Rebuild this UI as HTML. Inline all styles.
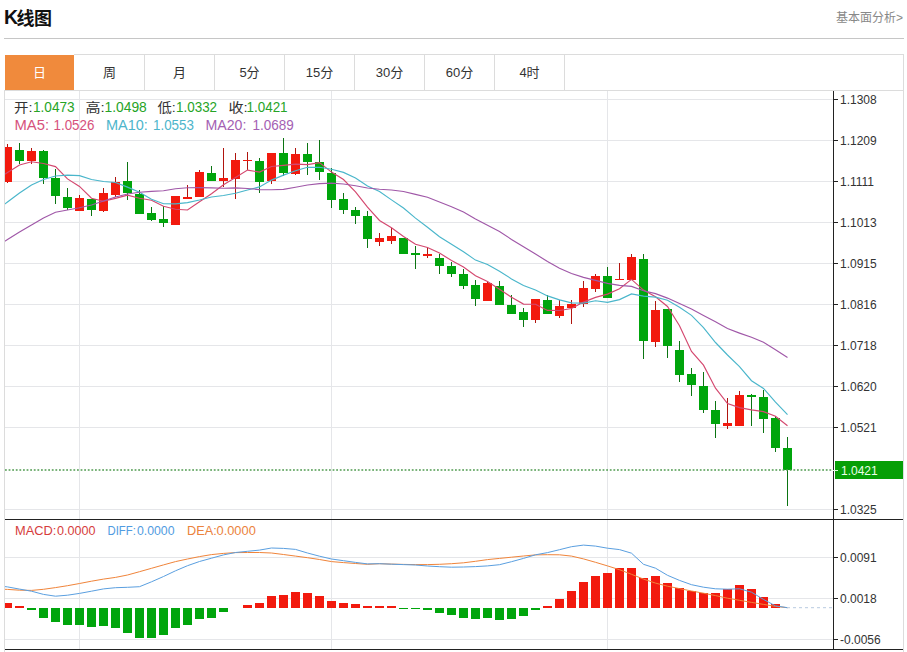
<!DOCTYPE html>
<html><head><meta charset="utf-8"><title>K线图</title>
<style>
*{margin:0;padding:0;box-sizing:border-box}
html,body{width:907px;height:652px;overflow:hidden;background:#fff}
body{position:relative;font-family:"Liberation Sans","Noto Sans CJK SC",sans-serif;color:#333}
.title{position:absolute;left:4px;top:6px;font-size:18px;font-weight:bold;color:#111;line-height:24px;letter-spacing:-0.5px}
.title i{font-style:normal;font-size:19.5px;position:relative;top:-1px;letter-spacing:-1.5px}
.more{position:absolute;right:4px;top:10px;font-size:12px;color:#888;line-height:16px}
.hr{position:absolute;left:4px;top:38px;width:900px;height:1px;background:#c6c6c6}
.tab{position:absolute;top:55px;width:69px;height:35px;line-height:36px;text-align:center;font-size:13px;color:#333}
.tab.on{background:#f08a3c;color:#fff}
svg{position:absolute;left:0;top:0}
.ax{font-family:"Liberation Sans",sans-serif;font-size:12px;fill:#333}
</style></head><body>
<div class="title"><i>K</i>线图</div>
<div class="more">基本面分析&gt;</div>
<div class="hr"></div>
<div class="tab on" style="left:5px">日</div>
<div class="tab" style="left:75px">周</div>
<div class="tab" style="left:145px">月</div>
<div class="tab" style="left:215px">5分</div>
<div class="tab" style="left:285px">15分</div>
<div class="tab" style="left:355px">30分</div>
<div class="tab" style="left:425px">60分</div>
<div class="tab" style="left:495px">4时</div>

<svg width="907" height="652" viewBox="0 0 907 652">
<defs><clipPath id="cm"><rect x="5" y="91" width="828" height="428"/></clipPath>
<clipPath id="cd"><rect x="5" y="520" width="828" height="129"/></clipPath></defs>
<line x1="74" y1="54.5" x2="904" y2="54.5" stroke="#dcdcdc"/><line x1="903.5" y1="54" x2="903.5" y2="652" stroke="#dcdcdc"/><line x1="4" y1="90.5" x2="904" y2="90.5" stroke="#dcdcdc"/><line x1="4.5" y1="90" x2="4.5" y2="652" stroke="#dcdcdc"/><line x1="144.5" y1="55" x2="144.5" y2="90" stroke="#dcdcdc"/><line x1="214.5" y1="55" x2="214.5" y2="90" stroke="#dcdcdc"/><line x1="284.5" y1="55" x2="284.5" y2="90" stroke="#dcdcdc"/><line x1="354.5" y1="55" x2="354.5" y2="90" stroke="#dcdcdc"/><line x1="424.5" y1="55" x2="424.5" y2="90" stroke="#dcdcdc"/><line x1="494.5" y1="55" x2="494.5" y2="90" stroke="#dcdcdc"/><line x1="564.5" y1="55" x2="564.5" y2="90" stroke="#dcdcdc"/><line x1="5" y1="99.5" x2="833" y2="99.5" stroke="#e5e6e9"/><line x1="5" y1="140.5" x2="833" y2="140.5" stroke="#e5e6e9"/><line x1="5" y1="181.5" x2="833" y2="181.5" stroke="#e5e6e9"/><line x1="5" y1="222.5" x2="833" y2="222.5" stroke="#e5e6e9"/><line x1="5" y1="263.5" x2="833" y2="263.5" stroke="#e5e6e9"/><line x1="5" y1="304.5" x2="833" y2="304.5" stroke="#e5e6e9"/><line x1="5" y1="345.5" x2="833" y2="345.5" stroke="#e5e6e9"/><line x1="5" y1="386.5" x2="833" y2="386.5" stroke="#e5e6e9"/><line x1="5" y1="427.5" x2="833" y2="427.5" stroke="#e5e6e9"/><line x1="5" y1="509.5" x2="833" y2="509.5" stroke="#e5e6e9"/><line x1="5" y1="557.5" x2="833" y2="557.5" stroke="#e5e6e9"/><line x1="5" y1="598.5" x2="833" y2="598.5" stroke="#e5e6e9"/><line x1="5" y1="639.5" x2="833" y2="639.5" stroke="#e5e6e9"/><line x1="79.5" y1="91" x2="79.5" y2="649" stroke="#e5e6e9"/><line x1="331.5" y1="91" x2="331.5" y2="649" stroke="#e5e6e9"/><line x1="607.5" y1="91" x2="607.5" y2="649" stroke="#e5e6e9"/><g clip-path="url(#cm)"><line x1="7.5" y1="144" x2="7.5" y2="183" stroke="#b0140e"/><rect x="3" y="147" width="9" height="35" fill="#f21a0e"/><line x1="19.5" y1="143" x2="19.5" y2="164" stroke="#0b7412"/><rect x="15" y="150" width="9" height="11" fill="#00a50c"/><line x1="31.5" y1="148" x2="31.5" y2="164" stroke="#b0140e"/><rect x="27" y="151" width="9" height="10" fill="#f21a0e"/><line x1="43.5" y1="150" x2="43.5" y2="184" stroke="#0b7412"/><rect x="39" y="151" width="9" height="27" fill="#00a50c"/><line x1="55.5" y1="169" x2="55.5" y2="204" stroke="#0b7412"/><rect x="51" y="178" width="9" height="18" fill="#00a50c"/><line x1="67.5" y1="188" x2="67.5" y2="210" stroke="#0b7412"/><rect x="63" y="197" width="9" height="11" fill="#00a50c"/><line x1="79.5" y1="195" x2="79.5" y2="211" stroke="#b0140e"/><rect x="75" y="198" width="9" height="13" fill="#f21a0e"/><line x1="91.5" y1="199" x2="91.5" y2="216" stroke="#0b7412"/><rect x="87" y="199" width="9" height="11" fill="#00a50c"/><line x1="103.5" y1="188" x2="103.5" y2="212" stroke="#b0140e"/><rect x="99" y="193" width="9" height="18" fill="#f21a0e"/><line x1="115.5" y1="177" x2="115.5" y2="197" stroke="#b0140e"/><rect x="111" y="182" width="9" height="13" fill="#f21a0e"/><line x1="127.5" y1="162" x2="127.5" y2="200" stroke="#0b7412"/><rect x="123" y="181" width="9" height="12" fill="#00a50c"/><line x1="139.5" y1="190" x2="139.5" y2="214" stroke="#0b7412"/><rect x="135" y="194" width="9" height="20" fill="#00a50c"/><line x1="151.5" y1="207" x2="151.5" y2="221" stroke="#0b7412"/><rect x="147" y="213" width="9" height="7" fill="#00a50c"/><line x1="163.5" y1="206" x2="163.5" y2="227" stroke="#0b7412"/><rect x="159" y="219" width="9" height="4" fill="#00a50c"/><line x1="175.5" y1="196" x2="175.5" y2="225" stroke="#b0140e"/><rect x="171" y="196" width="9" height="29" fill="#f21a0e"/><line x1="187.5" y1="185" x2="187.5" y2="199" stroke="#b0140e"/><rect x="183" y="197" width="9" height="2" fill="#f21a0e"/><line x1="199.5" y1="170" x2="199.5" y2="197" stroke="#b0140e"/><rect x="195" y="172" width="9" height="25" fill="#f21a0e"/><line x1="211.5" y1="166" x2="211.5" y2="181" stroke="#0b7412"/><rect x="207" y="173" width="9" height="8" fill="#00a50c"/><line x1="223.5" y1="148" x2="223.5" y2="187" stroke="#b0140e"/><rect x="219" y="178" width="9" height="3" fill="#f21a0e"/><line x1="235.5" y1="153" x2="235.5" y2="199" stroke="#b0140e"/><rect x="231" y="160" width="9" height="19" fill="#f21a0e"/><line x1="247.5" y1="152" x2="247.5" y2="170" stroke="#b0140e"/><rect x="243" y="160" width="9" height="1" fill="#f21a0e"/><line x1="259.5" y1="158" x2="259.5" y2="193" stroke="#0b7412"/><rect x="255" y="161" width="9" height="21" fill="#00a50c"/><line x1="271.5" y1="153" x2="271.5" y2="184" stroke="#b0140e"/><rect x="267" y="153" width="9" height="28" fill="#f21a0e"/><line x1="283.5" y1="138" x2="283.5" y2="176" stroke="#0b7412"/><rect x="279" y="153" width="9" height="20" fill="#00a50c"/><line x1="295.5" y1="148" x2="295.5" y2="175" stroke="#b0140e"/><rect x="291" y="154" width="9" height="20" fill="#f21a0e"/><line x1="307.5" y1="143" x2="307.5" y2="175" stroke="#0b7412"/><rect x="303" y="154" width="9" height="8" fill="#00a50c"/><line x1="319.5" y1="140" x2="319.5" y2="180" stroke="#0b7412"/><rect x="315" y="162" width="9" height="10" fill="#00a50c"/><line x1="331.5" y1="168" x2="331.5" y2="208" stroke="#0b7412"/><rect x="327" y="173" width="9" height="27" fill="#00a50c"/><line x1="343.5" y1="193" x2="343.5" y2="214" stroke="#0b7412"/><rect x="339" y="199" width="9" height="11" fill="#00a50c"/><line x1="355.5" y1="207" x2="355.5" y2="224" stroke="#0b7412"/><rect x="351" y="210" width="9" height="6" fill="#00a50c"/><line x1="367.5" y1="211" x2="367.5" y2="248" stroke="#0b7412"/><rect x="363" y="216" width="9" height="23" fill="#00a50c"/><line x1="379.5" y1="233" x2="379.5" y2="246" stroke="#b0140e"/><rect x="375" y="238" width="9" height="4" fill="#f21a0e"/><line x1="391.5" y1="228" x2="391.5" y2="244" stroke="#b0140e"/><rect x="387" y="236" width="9" height="5" fill="#f21a0e"/><line x1="403.5" y1="238" x2="403.5" y2="254" stroke="#0b7412"/><rect x="399" y="238" width="9" height="16" fill="#00a50c"/><line x1="415.5" y1="246" x2="415.5" y2="269" stroke="#0b7412"/><rect x="411" y="253" width="9" height="2" fill="#00a50c"/><line x1="427.5" y1="248" x2="427.5" y2="258" stroke="#b0140e"/><rect x="423" y="254" width="9" height="2" fill="#f21a0e"/><line x1="439.5" y1="254" x2="439.5" y2="274" stroke="#0b7412"/><rect x="435" y="258" width="9" height="8" fill="#00a50c"/><line x1="451.5" y1="262" x2="451.5" y2="277" stroke="#0b7412"/><rect x="447" y="266" width="9" height="8" fill="#00a50c"/><line x1="463.5" y1="269" x2="463.5" y2="289" stroke="#0b7412"/><rect x="459" y="274" width="9" height="12" fill="#00a50c"/><line x1="475.5" y1="280" x2="475.5" y2="306" stroke="#0b7412"/><rect x="471" y="285" width="9" height="14" fill="#00a50c"/><line x1="487.5" y1="281" x2="487.5" y2="301" stroke="#b0140e"/><rect x="483" y="283" width="9" height="18" fill="#f21a0e"/><line x1="499.5" y1="281" x2="499.5" y2="305" stroke="#0b7412"/><rect x="495" y="286" width="9" height="19" fill="#00a50c"/><line x1="511.5" y1="295" x2="511.5" y2="314" stroke="#0b7412"/><rect x="507" y="305" width="9" height="9" fill="#00a50c"/><line x1="523.5" y1="308" x2="523.5" y2="327" stroke="#0b7412"/><rect x="519" y="312" width="9" height="8" fill="#00a50c"/><line x1="535.5" y1="299" x2="535.5" y2="323" stroke="#b0140e"/><rect x="531" y="299" width="9" height="21" fill="#f21a0e"/><line x1="547.5" y1="295" x2="547.5" y2="314" stroke="#0b7412"/><rect x="543" y="300" width="9" height="14" fill="#00a50c"/><line x1="559.5" y1="300" x2="559.5" y2="318" stroke="#b0140e"/><rect x="555" y="306" width="9" height="10" fill="#f21a0e"/><line x1="571.5" y1="300" x2="571.5" y2="324" stroke="#b0140e"/><rect x="567" y="304" width="9" height="4" fill="#f21a0e"/><line x1="583.5" y1="281" x2="583.5" y2="307" stroke="#b0140e"/><rect x="579" y="288" width="9" height="16" fill="#f21a0e"/><line x1="595.5" y1="274" x2="595.5" y2="292" stroke="#b0140e"/><rect x="591" y="276" width="9" height="13" fill="#f21a0e"/><line x1="607.5" y1="267" x2="607.5" y2="298" stroke="#0b7412"/><rect x="603" y="276" width="9" height="22" fill="#00a50c"/><line x1="619.5" y1="263" x2="619.5" y2="280" stroke="#b0140e"/><rect x="615" y="279" width="9" height="1" fill="#f21a0e"/><line x1="631.5" y1="254" x2="631.5" y2="280" stroke="#b0140e"/><rect x="627" y="257" width="9" height="23" fill="#f21a0e"/><line x1="643.5" y1="254" x2="643.5" y2="359" stroke="#0b7412"/><rect x="639" y="259" width="9" height="82" fill="#00a50c"/><line x1="655.5" y1="301" x2="655.5" y2="347" stroke="#b0140e"/><rect x="651" y="310" width="9" height="32" fill="#f21a0e"/><line x1="667.5" y1="309" x2="667.5" y2="358" stroke="#0b7412"/><rect x="663" y="309" width="9" height="37" fill="#00a50c"/><line x1="679.5" y1="341" x2="679.5" y2="382" stroke="#0b7412"/><rect x="675" y="350" width="9" height="25" fill="#00a50c"/><line x1="691.5" y1="368" x2="691.5" y2="396" stroke="#0b7412"/><rect x="687" y="374" width="9" height="11" fill="#00a50c"/><line x1="703.5" y1="372" x2="703.5" y2="413" stroke="#0b7412"/><rect x="699" y="386" width="9" height="24" fill="#00a50c"/><line x1="715.5" y1="401" x2="715.5" y2="438" stroke="#0b7412"/><rect x="711" y="410" width="9" height="14" fill="#00a50c"/><line x1="727.5" y1="398" x2="727.5" y2="429" stroke="#b0140e"/><rect x="723" y="423" width="9" height="3" fill="#f21a0e"/><line x1="739.5" y1="391" x2="739.5" y2="426" stroke="#b0140e"/><rect x="735" y="395" width="9" height="31" fill="#f21a0e"/><line x1="751.5" y1="394" x2="751.5" y2="426" stroke="#0b7412"/><rect x="747" y="395" width="9" height="2" fill="#00a50c"/><line x1="763.5" y1="390" x2="763.5" y2="433" stroke="#0b7412"/><rect x="759" y="397" width="9" height="22" fill="#00a50c"/><line x1="775.5" y1="416" x2="775.5" y2="452" stroke="#0b7412"/><rect x="771" y="418" width="9" height="30" fill="#00a50c"/><line x1="787.5" y1="437" x2="787.5" y2="506" stroke="#0b7412"/><rect x="783" y="448" width="9" height="22" fill="#00a50c"/><polyline points="-4.5,180.0 7.5,172.5 19.5,165.0 31.5,161.8 43.5,163.5 55.5,166.6 67.5,178.9 79.5,186.4 91.5,198.2 103.5,201.2 115.5,198.4 127.5,195.2 139.5,198.3 151.5,200.3 163.5,206.3 175.5,209.2 187.5,210.0 199.5,201.7 211.5,193.8 223.5,184.7 235.5,177.4 247.5,170.1 259.5,172.1 271.5,166.5 283.5,165.4 295.5,164.2 307.5,164.6 319.5,162.6 331.5,172.1 343.5,179.5 355.5,191.8 367.5,207.2 379.5,220.5 391.5,227.7 403.5,236.5 415.5,244.3 427.5,247.5 439.5,253.0 451.5,260.6 463.5,267.0 475.5,275.8 487.5,281.5 499.5,289.3 511.5,297.3 523.5,304.1 535.5,304.2 547.5,310.4 559.5,310.5 571.5,308.5 583.5,302.1 595.5,297.4 607.5,294.1 619.5,288.7 631.5,279.4 643.5,290.1 655.5,296.8 667.5,306.5 679.5,325.7 691.5,351.4 703.5,365.2 715.5,388.2 727.5,403.6 739.5,407.6 751.5,409.9 763.5,411.6 775.5,416.3 787.5,425.8" fill="none" stroke="#d4486f" stroke-width="1.15"/><polyline points="-4.5,211.0 7.5,202.0 19.5,193.0 31.5,185.0 43.5,179.5 55.5,176.0 67.5,175.2 79.5,175.6 91.5,179.5 103.5,181.5 115.5,182.5 127.5,187.1 139.5,192.3 151.5,199.2 163.5,203.7 175.5,203.8 187.5,202.6 199.5,200.0 211.5,197.0 223.5,195.5 235.5,193.3 247.5,190.0 259.5,186.9 271.5,180.1 283.5,175.1 295.5,170.8 307.5,167.3 319.5,167.3 331.5,169.3 343.5,172.4 355.5,178.0 367.5,185.9 379.5,191.5 391.5,199.9 403.5,208.0 415.5,218.1 427.5,227.3 439.5,236.8 451.5,244.2 463.5,251.7 475.5,260.1 487.5,264.5 499.5,271.2 511.5,278.9 523.5,285.5 535.5,290.0 547.5,295.9 559.5,299.9 571.5,302.9 583.5,303.1 595.5,300.8 607.5,302.3 619.5,299.6 631.5,293.9 643.5,296.1 655.5,297.1 667.5,300.3 679.5,307.2 691.5,315.4 703.5,327.6 715.5,342.5 727.5,355.0 739.5,366.6 751.5,380.7 763.5,388.4 775.5,402.2 787.5,414.7" fill="none" stroke="#4ab6cb" stroke-width="1.15"/><polyline points="-4.5,247.0 7.5,239.5 19.5,232.0 31.5,225.0 43.5,218.0 55.5,212.3 67.5,210.0 79.5,207.7 91.5,205.0 103.5,201.0 115.5,197.0 127.5,194.0 139.5,192.3 151.5,191.4 163.5,190.7 175.5,188.8 187.5,187.7 199.5,187.6 211.5,187.9 223.5,188.2 235.5,187.9 247.5,188.5 259.5,189.6 271.5,189.7 283.5,189.4 295.5,187.3 307.5,185.0 319.5,183.6 331.5,183.1 343.5,184.0 355.5,185.7 367.5,188.0 379.5,189.2 391.5,190.0 403.5,191.5 415.5,194.4 427.5,197.3 439.5,202.0 451.5,206.7 463.5,212.1 475.5,219.0 487.5,225.2 499.5,231.4 511.5,239.4 523.5,246.8 535.5,254.0 547.5,261.6 559.5,268.3 571.5,273.5 583.5,277.4 595.5,280.4 607.5,283.4 619.5,285.4 631.5,286.4 643.5,290.8 655.5,293.6 667.5,298.1 679.5,303.6 691.5,309.1 703.5,315.4 715.5,321.7 727.5,328.6 739.5,333.1 751.5,337.3 763.5,342.3 775.5,349.7 787.5,357.5" fill="none" stroke="#a058a8" stroke-width="1.15"/></g><line x1="5" y1="470" x2="833" y2="470" stroke="#4f9a4f" stroke-width="1.3" stroke-dasharray="1.8 1.8"/><g clip-path="url(#cd)"><rect x="3" y="603" width="9" height="5" fill="#f21a0e"/><rect x="15" y="606" width="9" height="2" fill="#f21a0e"/><rect x="27" y="608" width="9" height="2" fill="#00a50c"/><rect x="39" y="608" width="9" height="10" fill="#00a50c"/><rect x="51" y="608" width="9" height="14" fill="#00a50c"/><rect x="63" y="608" width="9" height="17" fill="#00a50c"/><rect x="75" y="608" width="9" height="17" fill="#00a50c"/><rect x="87" y="608" width="9" height="19" fill="#00a50c"/><rect x="99" y="608" width="9" height="18" fill="#00a50c"/><rect x="111" y="608" width="9" height="20" fill="#00a50c"/><rect x="123" y="608" width="9" height="25" fill="#00a50c"/><rect x="135" y="608" width="9" height="30" fill="#00a50c"/><rect x="147" y="608" width="9" height="30" fill="#00a50c"/><rect x="159" y="608" width="9" height="27" fill="#00a50c"/><rect x="171" y="608" width="9" height="20" fill="#00a50c"/><rect x="183" y="608" width="9" height="17" fill="#00a50c"/><rect x="195" y="608" width="9" height="11" fill="#00a50c"/><rect x="207" y="608" width="9" height="10" fill="#00a50c"/><rect x="219" y="608" width="9" height="4" fill="#00a50c"/><rect x="243" y="605" width="9" height="3" fill="#f21a0e"/><rect x="255" y="603" width="9" height="5" fill="#f21a0e"/><rect x="267" y="596" width="9" height="12" fill="#f21a0e"/><rect x="279" y="595" width="9" height="13" fill="#f21a0e"/><rect x="291" y="592" width="9" height="16" fill="#f21a0e"/><rect x="303" y="593" width="9" height="15" fill="#f21a0e"/><rect x="315" y="596" width="9" height="12" fill="#f21a0e"/><rect x="327" y="601" width="9" height="7" fill="#f21a0e"/><rect x="339" y="603" width="9" height="5" fill="#f21a0e"/><rect x="351" y="604" width="9" height="4" fill="#f21a0e"/><rect x="363" y="606" width="9" height="2" fill="#f21a0e"/><rect x="375" y="606" width="9" height="2" fill="#f21a0e"/><rect x="387" y="606" width="9" height="2" fill="#f21a0e"/><rect x="399" y="608" width="9" height="1" fill="#00a50c"/><rect x="411" y="608" width="9" height="1" fill="#00a50c"/><rect x="423" y="608" width="9" height="2" fill="#00a50c"/><rect x="435" y="608" width="9" height="5" fill="#00a50c"/><rect x="447" y="608" width="9" height="7" fill="#00a50c"/><rect x="459" y="608" width="9" height="10" fill="#00a50c"/><rect x="471" y="608" width="9" height="11" fill="#00a50c"/><rect x="483" y="608" width="9" height="10" fill="#00a50c"/><rect x="495" y="608" width="9" height="12" fill="#00a50c"/><rect x="507" y="608" width="9" height="11" fill="#00a50c"/><rect x="519" y="608" width="9" height="8" fill="#00a50c"/><rect x="531" y="608" width="9" height="2" fill="#00a50c"/><rect x="543" y="606" width="9" height="2" fill="#f21a0e"/><rect x="555" y="599" width="9" height="9" fill="#f21a0e"/><rect x="567" y="591" width="9" height="17" fill="#f21a0e"/><rect x="579" y="582" width="9" height="26" fill="#f21a0e"/><rect x="591" y="576" width="9" height="32" fill="#f21a0e"/><rect x="603" y="573" width="9" height="35" fill="#f21a0e"/><rect x="615" y="568" width="9" height="40" fill="#f21a0e"/><rect x="627" y="568" width="9" height="40" fill="#f21a0e"/><rect x="639" y="578" width="9" height="30" fill="#f21a0e"/><rect x="651" y="576" width="9" height="32" fill="#f21a0e"/><rect x="663" y="583" width="9" height="25" fill="#f21a0e"/><rect x="675" y="588" width="9" height="20" fill="#f21a0e"/><rect x="687" y="591" width="9" height="17" fill="#f21a0e"/><rect x="699" y="593" width="9" height="15" fill="#f21a0e"/><rect x="711" y="593" width="9" height="15" fill="#f21a0e"/><rect x="723" y="589" width="9" height="19" fill="#f21a0e"/><rect x="735" y="585" width="9" height="23" fill="#f21a0e"/><rect x="747" y="589" width="9" height="19" fill="#f21a0e"/><rect x="759" y="597" width="9" height="11" fill="#f21a0e"/><rect x="771" y="604" width="9" height="4" fill="#f21a0e"/><polyline points="-4.5,589.0 7.5,589.4 19.5,590.2 31.5,590.4 43.5,589.3 55.5,587.6 67.5,585.7 79.5,583.5 91.5,581.2 103.5,579.1 115.5,577.4 127.5,575.0 139.5,571.7 151.5,568.3 163.5,564.9 175.5,561.6 187.5,559.0 199.5,556.6 211.5,554.6 223.5,553.4 235.5,552.6 247.5,552.5 259.5,552.5 271.5,553.0 283.5,554.5 295.5,556.1 307.5,557.7 319.5,559.5 331.5,561.6 343.5,562.6 355.5,563.5 367.5,564.3 379.5,563.7 391.5,564.1 403.5,564.4 415.5,564.6 427.5,564.6 439.5,564.3 451.5,563.7 463.5,562.8 475.5,561.3 487.5,559.6 499.5,558.4 511.5,557.2 523.5,556.0 535.5,554.9 547.5,554.7 559.5,554.8 571.5,556.1 583.5,558.9 595.5,562.3 607.5,565.9 619.5,569.7 631.5,574.3 643.5,579.1 655.5,583.1 667.5,586.2 679.5,588.6 691.5,591.0 703.5,593.2 715.5,595.6 727.5,598.2 739.5,600.3 751.5,602.4 763.5,604.4 775.5,606.4 787.5,607.7" fill="none" stroke="#f0843a" stroke-width="1"/><polyline points="-4.5,585.5 7.5,586.9 19.5,589.1 31.5,591.2 43.5,594.4 55.5,596.2 67.5,595.2 79.5,593.4 91.5,591.2 103.5,588.9 115.5,587.7 127.5,587.3 139.5,586.7 151.5,581.8 163.5,576.5 175.5,570.8 187.5,565.7 199.5,561.5 211.5,558.2 223.5,554.9 235.5,552.5 247.5,551.3 259.5,550.1 271.5,548.0 283.5,548.4 295.5,549.4 307.5,553.0 319.5,556.2 331.5,559.0 343.5,560.7 355.5,562.4 367.5,563.9 379.5,563.7 391.5,564.2 403.5,564.6 415.5,565.0 427.5,566.0 439.5,566.7 451.5,567.2 463.5,567.0 475.5,566.6 487.5,565.9 499.5,564.7 511.5,561.7 523.5,558.4 535.5,554.8 547.5,552.6 559.5,549.7 571.5,546.7 583.5,545.1 595.5,546.1 607.5,548.2 619.5,549.6 631.5,553.2 643.5,564.3 655.5,568.2 667.5,575.3 679.5,580.4 691.5,584.7 703.5,587.2 715.5,588.8 727.5,589.2 739.5,588.8 751.5,592.2 763.5,599.4 775.5,605.9 787.5,607.7" fill="none" stroke="#5a9fe0" stroke-width="1"/></g><line x1="787" y1="607.7" x2="833" y2="607.7" stroke="#b8cbe0" stroke-dasharray="3 3"/><line x1="833.5" y1="91" x2="833.5" y2="650" stroke="#222"/><line x1="5" y1="519.5" x2="903" y2="519.5" stroke="#222"/><line x1="5" y1="649.5" x2="903" y2="649.5" stroke="#222"/><line x1="833" y1="99.5" x2="838" y2="99.5" stroke="#222"/><text x="840" y="103.5" class="ax">1.1308</text><line x1="833" y1="140.5" x2="838" y2="140.5" stroke="#222"/><text x="840" y="144.5" class="ax">1.1209</text><line x1="833" y1="181.5" x2="838" y2="181.5" stroke="#222"/><text x="840" y="185.5" class="ax">1.1111</text><line x1="833" y1="222.5" x2="838" y2="222.5" stroke="#222"/><text x="840" y="226.5" class="ax">1.1013</text><line x1="833" y1="263.5" x2="838" y2="263.5" stroke="#222"/><text x="840" y="267.5" class="ax">1.0915</text><line x1="833" y1="304.5" x2="838" y2="304.5" stroke="#222"/><text x="840" y="308.5" class="ax">1.0816</text><line x1="833" y1="345.5" x2="838" y2="345.5" stroke="#222"/><text x="840" y="349.5" class="ax">1.0718</text><line x1="833" y1="386.5" x2="838" y2="386.5" stroke="#222"/><text x="840" y="390.5" class="ax">1.0620</text><line x1="833" y1="427.5" x2="838" y2="427.5" stroke="#222"/><text x="840" y="431.5" class="ax">1.0521</text><line x1="833" y1="509.5" x2="838" y2="509.5" stroke="#222"/><text x="840" y="513.5" class="ax">1.0325</text><line x1="833" y1="557.5" x2="838" y2="557.5" stroke="#222"/><text x="840" y="561.5" class="ax">0.0091</text><line x1="833" y1="598.5" x2="838" y2="598.5" stroke="#222"/><text x="840" y="602.5" class="ax">0.0018</text><line x1="833" y1="639.5" x2="838" y2="639.5" stroke="#222"/><text x="840" y="643.5" class="ax">-0.0056</text><rect x="835" y="461" width="68" height="18" fill="#069f06"/><line x1="833" y1="470.5" x2="838" y2="470.5" stroke="#dfffdf"/><text x="841" y="474.5" class="ax" style="fill:#eaffea">1.0421</text><text x="14.00" y="112" style="font-family:'Liberation Sans','Noto Sans CJK SC',sans-serif;font-size:13px" fill="#333" textLength="18.50" lengthAdjust="spacingAndGlyphs">开:</text><text x="33.00" y="112" style="font-family:'Liberation Sans','Noto Sans CJK SC',sans-serif;font-size:14px" fill="#26a426" textLength="41.70" lengthAdjust="spacingAndGlyphs">1.0473</text><text x="85.50" y="112" style="font-family:'Liberation Sans','Noto Sans CJK SC',sans-serif;font-size:13px" fill="#333" textLength="19.30" lengthAdjust="spacingAndGlyphs">高:</text><text x="104.50" y="112" style="font-family:'Liberation Sans','Noto Sans CJK SC',sans-serif;font-size:14px" fill="#26a426" textLength="42.30" lengthAdjust="spacingAndGlyphs">1.0498</text><text x="157.50" y="112" style="font-family:'Liberation Sans','Noto Sans CJK SC',sans-serif;font-size:13px" fill="#333" textLength="18.30" lengthAdjust="spacingAndGlyphs">低:</text><text x="176.00" y="112" style="font-family:'Liberation Sans','Noto Sans CJK SC',sans-serif;font-size:14px" fill="#26a426" textLength="41.10" lengthAdjust="spacingAndGlyphs">1.0332</text><text x="228.50" y="112" style="font-family:'Liberation Sans','Noto Sans CJK SC',sans-serif;font-size:13px" fill="#333" textLength="19.30" lengthAdjust="spacingAndGlyphs">收:</text><text x="246.50" y="112" style="font-family:'Liberation Sans','Noto Sans CJK SC',sans-serif;font-size:14px" fill="#26a426" textLength="41.10" lengthAdjust="spacingAndGlyphs">1.0421</text><text x="14.50" y="130" style="font-family:'Liberation Sans','Noto Sans CJK SC',sans-serif;font-size:14px" fill="#d6527c" textLength="34.50" lengthAdjust="spacingAndGlyphs">MA5:</text><text x="53.50" y="130" style="font-family:'Liberation Sans','Noto Sans CJK SC',sans-serif;font-size:14px" fill="#d6527c" textLength="40.90" lengthAdjust="spacingAndGlyphs">1.0526</text><text x="106.00" y="130" style="font-family:'Liberation Sans','Noto Sans CJK SC',sans-serif;font-size:14px" fill="#4db5cb" textLength="41.90" lengthAdjust="spacingAndGlyphs">MA10:</text><text x="153.00" y="130" style="font-family:'Liberation Sans','Noto Sans CJK SC',sans-serif;font-size:14px" fill="#4db5cb" textLength="40.90" lengthAdjust="spacingAndGlyphs">1.0553</text><text x="205.50" y="130" style="font-family:'Liberation Sans','Noto Sans CJK SC',sans-serif;font-size:14px" fill="#a460b3" textLength="40.90" lengthAdjust="spacingAndGlyphs">MA20:</text><text x="252.50" y="130" style="font-family:'Liberation Sans','Noto Sans CJK SC',sans-serif;font-size:14px" fill="#a460b3" textLength="41.30" lengthAdjust="spacingAndGlyphs">1.0689</text><text x="15.00" y="535" style="font-family:'Liberation Sans','Noto Sans CJK SC',sans-serif;font-size:12px" fill="#d63c3c" textLength="41.30" lengthAdjust="spacingAndGlyphs">MACD:</text><text x="57.00" y="535" style="font-family:'Liberation Sans','Noto Sans CJK SC',sans-serif;font-size:12px" fill="#d63c3c" textLength="38.50" lengthAdjust="spacingAndGlyphs">0.0000</text><text x="107.50" y="535" style="font-family:'Liberation Sans','Noto Sans CJK SC',sans-serif;font-size:12px" fill="#509be1" textLength="28.30" lengthAdjust="spacingAndGlyphs">DIFF:</text><text x="137.00" y="535" style="font-family:'Liberation Sans','Noto Sans CJK SC',sans-serif;font-size:12px" fill="#509be1" textLength="37.50" lengthAdjust="spacingAndGlyphs">0.0000</text><text x="187.00" y="535" style="font-family:'Liberation Sans','Noto Sans CJK SC',sans-serif;font-size:12px" fill="#eb823c" textLength="29.70" lengthAdjust="spacingAndGlyphs">DEA:</text><text x="216.50" y="535" style="font-family:'Liberation Sans','Noto Sans CJK SC',sans-serif;font-size:12px" fill="#eb823c" textLength="39.30" lengthAdjust="spacingAndGlyphs">0.0000</text>
</svg>
</body></html>
